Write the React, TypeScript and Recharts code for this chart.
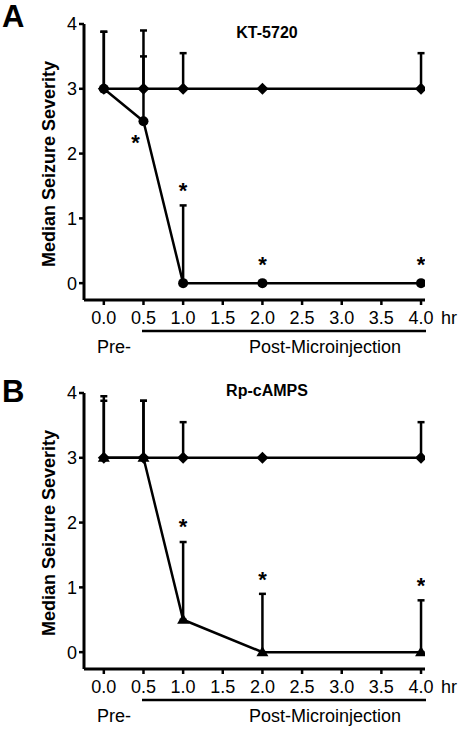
import {
  ComposedChart,
  ErrorBar,
  Line,
  Scatter,
  XAxis,
  YAxis,
} from "recharts";

// time points (hr)
const times = [0, 0.5, 1, 2, 4];
const xTicks = [0, 0.5, 1, 1.5, 2, 2.5, 3, 3.5, 4];
const yTicks = [0, 1, 2, 3, 4];

// panel A: KT-5720
const ctrlA = [3, 3, 3, 3, 3];
const ctrlErrA = [0.88, 0.9, 0.55, 0, 0.55];
const drugA = [3, 2.5, 0, 0, 0];
const drugErrA = [0.88, 1.0, 1.2, 0, 0];
const starsA = [
  { t: 0.4, y: 2.25 },
  { t: 1, y: 1.51 },
  { t: 2, y: 0.37 },
  { t: 4, y: 0.37 },
];

// panel B: Rp-cAMPS
const ctrlB = [3, 3, 3, 3, 3];
const ctrlErrB = [0.95, 0.88, 0.55, 0, 0.55];
const drugB = [3, 3, 0.5, 0, 0];
const drugErrB = [0.88, 0.88, 1.2, 0.9, 0.8];
const starsB = [
  { t: 1, y: 2.02 },
  { t: 2, y: 1.2 },
  { t: 4, y: 1.11 },
];

const FONT = "Arial, 'Liberation Sans', Helvetica, sans-serif";
const W = 462;
const H = 361;

const Diamond = (props: any) => {
  const { cx, cy, index } = props;
  if (cx == null || cy == null) return <g key={`d${index}`} />;
  const r = 6;
  return (
    <path
      key={`d${index}`}
      d={`M${cx},${cy - r}L${cx + r},${cy}L${cx},${cy + r}L${cx - r},${cy}Z`}
      fill="#000"
    />
  );
};

const Circle = (props: any) => {
  const { cx, cy, index } = props;
  if (cx == null || cy == null) return <g key={`c${index}`} />;
  return <circle key={`c${index}`} cx={cx} cy={cy} r={5} fill="#000" />;
};

const Triangle = (props: any) => {
  const { cx, cy, index } = props;
  if (cx == null || cy == null) return <g key={`t${index}`} />;
  return (
    <path
      key={`t${index}`}
      d={`M${cx},${cy - 6}L${cx + 6},${cy + 4}L${cx - 6},${cy + 4}Z`}
      fill="#000"
    />
  );
};

const Star = (props: any) => {
  const { cx, cy } = props;
  return (
    <text
      x={cx}
      y={cy + 13}
      textAnchor="middle"
      fontSize={22}
      fontWeight="bold"
      fontFamily={FONT}
      fill="#000"
    >
      *
    </text>
  );
};

type PanelProps = {
  letter: string;
  title: string;
  ctrl: number[];
  ctrlErr: number[];
  drug: number[];
  drugErr: number[];
  stars: { t: number; y: number }[];
  drugDot: (p: any) => any;
  titleY: number;
  letterY: number;
};

function Panel({
  letter,
  title,
  ctrl,
  ctrlErr,
  drug,
  drugErr,
  stars,
  drugDot,
  titleY,
  letterY,
}: PanelProps) {
  const data = times.map((t, i) => ({
    t,
    ctrl: ctrl[i],
    ctrlErr: [0, ctrlErr[i]],
    drug: drug[i],
    drugErr: [0, drugErr[i]],
  }));

  return (
    <ComposedChart
      width={W}
      height={H}
      data={data}
      margin={{ top: 24, right: 37, bottom: 31, left: 44 }}
      style={{ fontFamily: FONT }}
    >
      <XAxis
        dataKey="t"
        type="number"
        domain={[-0.25, 4.05]}
        ticks={xTicks}
        tickFormatter={(v: number) => v.toFixed(1)}
        interval={0}
        height={30}
        tickSize={5}
        tickMargin={6}
        axisLine={{ stroke: "#000", strokeWidth: 3 }}
        tickLine={{ stroke: "#000", strokeWidth: 2.5 }}
        tick={{ fill: "#000", fontSize: 18 }}
        allowDataOverflow
      />
      <YAxis
        type="number"
        domain={[-0.26, 4]}
        ticks={yTicks}
        interval={0}
        width={40}
        tickSize={5}
        axisLine={{ stroke: "#000", strokeWidth: 3 }}
        tickLine={{ stroke: "#000", strokeWidth: 2.5 }}
        tick={{ fill: "#000", fontSize: 18 }}
        allowDataOverflow
      />
      <Line
        dataKey="ctrl"
        stroke="#000"
        strokeWidth={2.5}
        dot={Diamond}
        activeDot={false}
        isAnimationActive={false}
      >
        <ErrorBar
          dataKey="ctrlErr"
          direction="y"
          width={3.5}
          stroke="#000"
          strokeWidth={2.5}
          isAnimationActive={false}
        />
      </Line>
      <Line
        dataKey="drug"
        stroke="#000"
        strokeWidth={2.5}
        dot={drugDot}
        activeDot={false}
        isAnimationActive={false}
      >
        <ErrorBar
          dataKey="drugErr"
          direction="y"
          width={3.5}
          stroke="#000"
          strokeWidth={2.5}
          isAnimationActive={false}
        />
      </Line>
      <Scatter
        data={stars}
        dataKey="y"
        shape={Star}
        isAnimationActive={false}
      />

      <text
        x={2}
        y={letterY}
        fontSize={31}
        fontWeight="bold"
        fontFamily={FONT}
        fill="#000"
      >
        {letter}
      </text>
      <text
        x={267}
        y={titleY}
        textAnchor="middle"
        fontSize={16}
        fontWeight="bold"
        fontFamily={FONT}
        fill="#000"
      >
        {title}
      </text>
      <text
        transform="translate(55,164) rotate(-90)"
        textAnchor="middle"
        fontSize={18}
        fontWeight="bold"
        fontFamily={FONT}
        fill="#000"
      >
        Median Seizure Severity
      </text>
      <text x={441} y={324} fontSize={18} fontFamily={FONT} fill="#000">
        hr
      </text>
      <line x1={142} x2={426} y1={331} y2={331} stroke="#000" strokeWidth={2.5} />
      <text
        x={114}
        y={353}
        textAnchor="middle"
        fontSize={18}
        fontFamily={FONT}
        fill="#000"
      >
        Pre-
      </text>
      <text
        x={325}
        y={353}
        textAnchor="middle"
        fontSize={18}
        fontFamily={FONT}
        fill="#000"
      >
        Post-Microinjection
      </text>
    </ComposedChart>
  );
}

export default function App() {
  return (
    <div
      style={{
        position: "absolute",
        left: 0,
        top: 0,
        width: W,
        height: 730,
        background: "#fff",
        overflow: "hidden",
      }}
    >
      <div style={{ position: "absolute", left: 0, top: 0 }}>
        <Panel
          letter="A"
          title="KT-5720"
          ctrl={ctrlA}
          ctrlErr={ctrlErrA}
          drug={drugA}
          drugErr={drugErrA}
          stars={starsA}
          drugDot={Circle}
          titleY={38}
          letterY={27}
        />
      </div>
      <div style={{ position: "absolute", left: 0, top: 369 }}>
        <Panel
          letter="B"
          title="Rp-cAMPS"
          ctrl={ctrlB}
          ctrlErr={ctrlErrB}
          drug={drugB}
          drugErr={drugErrB}
          stars={starsB}
          drugDot={Triangle}
          titleY={27}
          letterY={33}
        />
      </div>
    </div>
  );
}
